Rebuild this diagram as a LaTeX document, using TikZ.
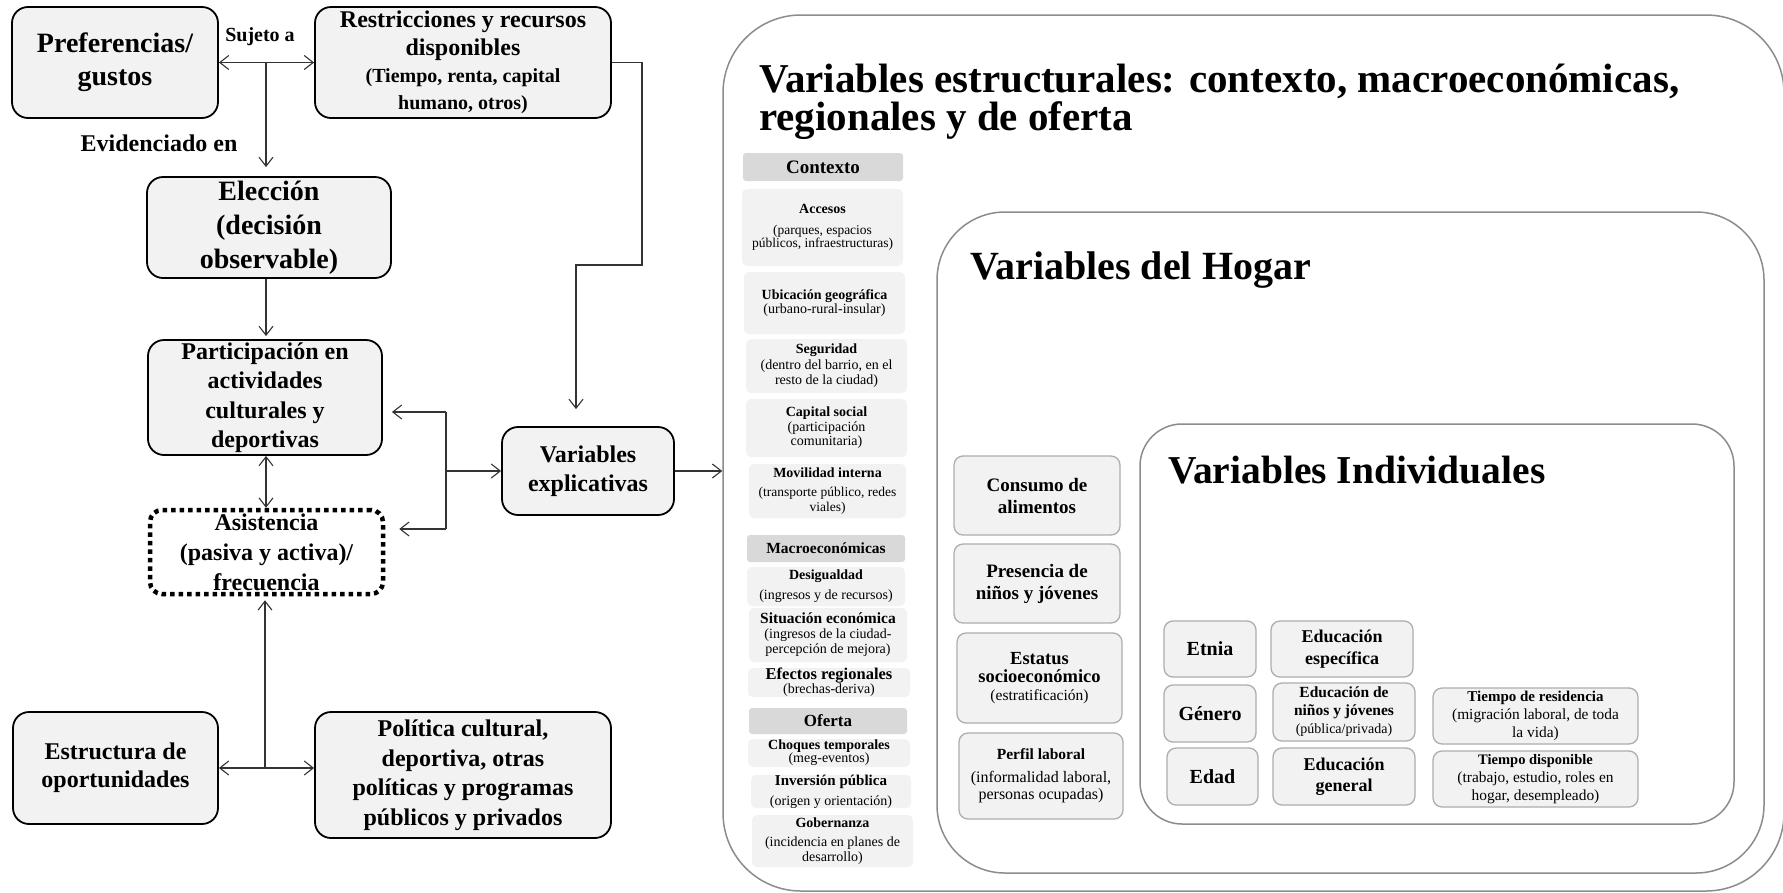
\documentclass[tikz,border=0pt]{standalone}
\usepackage{fontspec}
\setmainfont{Liberation Serif}
\usetikzlibrary{arrows.meta}
\newcommand\fsz[2]{\fontsize{#1pt}{#2pt}\selectfont}
\definecolor{boxfill}{HTML}{F2F2F2}
\definecolor{hdrfill}{HTML}{D9D9D9}
\definecolor{framegray}{HTML}{8C8C8C}
\definecolor{itemgray}{HTML}{ADADAD}
\definecolor{linkgray}{HTML}{333333}
\begin{document}
\begin{tikzpicture}[x=1pt,y=-1pt,
  >={Straight Barb[length=9pt,width=14pt]},
  lbox/.style={draw=black,line width=1.8pt,fill=boxfill,rounded corners=16pt,inner sep=0pt,align=center},
  dotbox/.style={draw=black,line width=4.5pt,dash pattern=on 4.5pt off 4pt,fill=white,rounded corners=12pt,inner sep=0pt,align=center},
  cont/.style={draw=framegray,line width=1.5pt,fill=white,inner sep=0pt},
  cell/.style={fill=boxfill,rounded corners=5pt,inner sep=0pt,align=center},
  hdr/.style={fill=hdrfill,rounded corners=3pt,inner sep=0pt,align=center},
  ibox/.style={draw=itemgray,line width=1.3pt,fill=boxfill,rounded corners=9pt,inner sep=0pt,align=center},
  lab/.style={inner sep=0pt},
  ttl/.style={inner sep=0pt,anchor=base west},
  link/.style={draw=linkgray,line width=1.1pt},
]
\useasboundingbox (0,0) rectangle (1783,892);

% ---------- containers ----------
\node[cont,rounded corners=78pt,minimum width=1061pt,minimum height=876pt] (outer) at (1253.5,453) {};
\node[cont,rounded corners=68pt,minimum width=827pt,minimum height=661pt] (hogar) at (1350.5,542.5) {};
\node[cont,rounded corners=42pt,minimum width=594pt,minimum height=400pt] (indiv) at (1437,624) {};

\node[ttl,font=\bfseries\fsz{41}{41}] (t1) at (759,92) {Variables estructurales: contexto, macroeconómicas,};
\node[ttl,font=\bfseries\fsz{41}{41}] (t2) at (759,130) {regionales y de oferta};
\node[ttl,font=\bfseries\fsz{40}{40}] (thog) at (970,279) {Variables del Hogar};
\node[ttl,font=\bfseries\fsz{39.5}{40}] (tind) at (1168,483) {Variables Individuales};

% ---------- structural column ----------
\node[hdr,minimum width=160pt,minimum height=28pt,font=\bfseries\fsz{19}{19}] (hctx) at (823,167) {Contexto};
\node[cell,minimum width=161pt,minimum height=77pt,font=\fsz{13.5}{13}] (acc) at (822.5,227.5) {{\bfseries\fsz{14}{14}Accesos}\\[8pt](parques, espacios\\públicos, infraestructuras)};
\node[cell,minimum width=161pt,minimum height=62pt,font=\fsz{14}{13.5}] (ubi) at (824.5,303) {{\bfseries Ubicación geográfica}\\(urbano-rural-insular)};
\node[cell,minimum width=161pt,minimum height=54pt,font=\fsz{14}{15.5}] (seg) at (826.5,366) {{\bfseries Seguridad}\\(dentro del barrio, en el\\resto de la ciudad)};
\node[cell,minimum width=161pt,minimum height=58pt,font=\fsz{14}{14.5}] (cap) at (826.5,428) {{\bfseries Capital social}\\(participación\\comunitaria)};
\node[cell,minimum width=157pt,minimum height=54pt,font=\fsz{13.5}{15}] (mov) at (827.5,491) {{\bfseries\fsz{14}{15}Movilidad interna}\\[4pt](transporte público, redes\\viales)};
\node[hdr,minimum width=158pt,minimum height=27pt,font=\bfseries\fsz{15.5}{16}] (hmac) at (826,548.5) {Macroeconómicas};
\node[cell,minimum width=158pt,minimum height=39pt,font=\fsz{14}{14}] (des) at (826,586.5) {{\bfseries Desigualdad}\\[6pt](ingresos y de recursos)};
\node[cell,minimum width=158pt,minimum height=54pt,font=\fsz{14}{15}] (sit) at (828,635) {{\bfseries\fsz{15.5}{15}Situación económica}\\(ingresos de la ciudad-\\percepción de mejora)};
\node[cell,minimum width=162pt,minimum height=29pt,font=\fsz{14}{14}] (efe) at (829,682.5) {{\bfseries\fsz{16.5}{14}Efectos regionales}\\(brechas-deriva)};
\node[hdr,minimum width=158pt,minimum height=26pt,font=\bfseries\fsz{17}{17}] (hofe) at (828,721) {Oferta};
\node[cell,minimum width=162pt,minimum height=28pt,font=\fsz{14}{13}] (cho) at (829,753) {{\bfseries Choques temporales}\\(meg-eventos)};
\node[cell,minimum width=160pt,minimum height=33pt,font=\fsz{14}{14}] (inv) at (831,791.5) {{\bfseries\fsz{15}{14}Inversión pública}\\[6pt](origen y orientación)};
\node[cell,minimum width=161pt,minimum height=52pt,font=\fsz{14}{15}] (gob) at (832.5,841) {{\bfseries Gobernanza}\\[4pt](incidencia en planes de\\desarrollo)};

% ---------- household ----------
\node[ibox,minimum width=166pt,minimum height=79pt,font=\bfseries\fsz{19}{22}] (con) at (1037,495.5) {Consumo de\\alimentos};
\node[ibox,minimum width=166pt,minimum height=79pt,font=\bfseries\fsz{19}{22}] (pre) at (1037,583.5) {Presencia de\\niños y jóvenes};
\node[ibox,minimum width=165pt,minimum height=90pt,font=\bfseries\fsz{18.5}{18}] (est) at (1039.5,678) {Estatus\\socioeconómico\\{\mdseries\fsz{15.5}{17}(estratificación)}};
\node[ibox,minimum width=164pt,minimum height=86pt,font=\fsz{16}{17}] (per) at (1041,776) {{\bfseries\fsz{15.5}{17}Perfil laboral}\\[6pt](informalidad laboral,\\personas ocupadas)};

% ---------- individual ----------
\node[ibox,minimum width=92pt,minimum height=56pt,font=\bfseries\fsz{20}{22}] (etn) at (1210,649) {Etnia};
\node[ibox,minimum width=142pt,minimum height=56pt,font=\bfseries\fsz{18}{22}] (eesp) at (1342,649) {Educación\\específica};
\node[ibox,minimum width=92pt,minimum height=57pt,font=\bfseries\fsz{20}{22}] (gen) at (1210,713.5) {Género};
\node[ibox,minimum width=142pt,minimum height=58pt,font=\bfseries\fsz{15.5}{18}] (enin) at (1344,712) {Educación de\\niños y jóvenes\\{\mdseries\fsz{14}{18}(pública/privada)}};
\node[ibox,minimum width=91pt,minimum height=57pt,font=\bfseries\fsz{20}{22}] (eda) at (1212.5,776.5) {Edad};
\node[ibox,minimum width=142pt,minimum height=57pt,font=\bfseries\fsz{18}{21}] (egen) at (1344,776.5) {Educación\\general};
\node[ibox,minimum width=205pt,minimum height=56pt,font=\fsz{15.4}{18}] (tres) at (1535.5,716) {{\bfseries\fsz{15}{18}Tiempo de residencia}\\(migración laboral, de toda\\la vida)};
\node[ibox,minimum width=205pt,minimum height=56pt,font=\fsz{15.4}{18}] (tdis) at (1535.5,779) {{\bfseries\fsz{14.5}{18}Tiempo disponible}\\(trabajo, estudio, roles en\\hogar, desempleado)};

% ---------- left diagram ----------
\node[lbox,minimum width=206pt,minimum height=111pt,font=\bfseries\fsz{28}{33}] (pref) at (115,62.5) {Preferencias/\\gustos};
\node[lbox,minimum width=296pt,minimum height=111pt,font=\bfseries\fsz{24}{28}] (restr) at (463,62.5) {Restricciones y recursos\\disponibles\\[-1pt]{\fsz{20}{27}(Tiempo, renta, capital}\\[-1pt]{\fsz{20}{27}humano, otros)}};
\node[lbox,minimum width=244pt,minimum height=101pt,font=\bfseries\fsz{28}{34}] (elec) at (269,227.5) {Elección\\(decisión\\observable)};
\node[lbox,minimum width=234pt,minimum height=115pt,font=\bfseries\fsz{24}{29.5}] (part) at (265,397.5) {Participación en\\actividades\\culturales y\\deportivas};
\node[dotbox,minimum width=233pt,minimum height=84pt,font=\bfseries\fsz{24}{30}] (asis) at (266.5,552) {Asistencia\\(pasiva y activa)/\\frecuencia};
\node[lbox,minimum width=172pt,minimum height=88pt,font=\bfseries\fsz{24}{29}] (varexp) at (588,471) {Variables\\explicativas};
\node[lbox,minimum width=205pt,minimum height=112pt,font=\bfseries\fsz{24}{28}] (estr) at (115.5,768) {Estructura de\\oportunidades};
\node[lbox,minimum width=296pt,minimum height=126pt,font=\bfseries\fsz{24}{29.5}] (polit) at (463,775) {Política cultural,\\deportiva, otras\\políticas y programas\\públicos y privados};

\node[lab,font=\bfseries\fsz{20}{20}] (suj) at (260,37) {Sujeto a};
\node[lab,font=\bfseries\fsz{24}{24}] (evid) at (159,143) {Evidenciado en};

% ---------- connectors ----------
\coordinate (jt) at (266,62.5);
\coordinate (jb) at (265,768);
\coordinate (jm) at (446,471);
\coordinate (bu) at (446,412);
\coordinate (bd) at (446,529);
\coordinate (r1) at (642,265);
\coordinate (r2) at (576,265);

\draw[link,<->] (pref.east) -- (restr.west);
\draw[link,->,shorten >=9pt] (jt) -- (jt |- elec.north);
\draw[link,->,shorten >=3pt] (elec.south -| jt) -- (part.north -| jt);
\draw[link,<->] (part.south -| jt) -- (asis.north -| jt);
\draw[link,<->] (estr.east) -- (estr.east -| polit.west);
\draw[link,->,shorten >=4pt] (jb) -- (asis.south -| jb);
\draw[link,->,shorten >=17pt] (restr.east) -| (r1) -- (r2) -- (r2 |- varexp.north);
\draw[link] (bu) -- (bd);
\draw[link,->] (jm) -- (varexp.west);
\draw[link,->,shorten >=9pt] (bu) -- (bu -| part.east);
\draw[link,->,shorten >=14pt] (bd) -- (bd -| asis.east);
\draw[link,->] (varexp.east) -- (varexp.east -| outer.west);
\end{tikzpicture}
\end{document}
